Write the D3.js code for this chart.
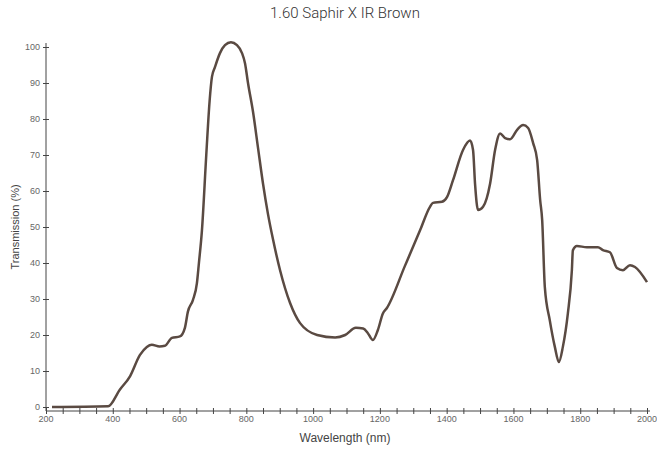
<!DOCTYPE html>
<html>
<head>
<meta charset="utf-8">
<script src="https://cdn.jsdelivr.net/npm/d3@7"></script>
<style>
  body { margin: 0; background: #fff; }
  svg text { font-family: "Liberation Sans", Arial, sans-serif; }
</style>
</head>
<body>
<svg id="chart" width="657" height="449"></svg>
<script>
// wavelength (nm) and transmission (%)
var wavelength = [218, 386, 421, 452, 481, 502, 517, 540, 556, 577, 601, 616, 625, 640, 652, 658, 667, 680, 690, 697, 706, 721, 736, 754, 772, 787, 796, 805, 820, 835, 850, 865, 880, 901, 931, 961, 1012, 1066, 1096, 1128, 1150, 1164, 1179, 1194, 1209, 1221, 1275, 1320, 1350, 1359, 1386, 1401, 1419, 1449, 1470, 1479, 1485, 1494, 1509, 1530, 1545, 1560, 1575, 1590, 1611, 1629, 1644, 1659, 1671, 1680, 1686, 1694, 1709, 1724, 1736, 1748, 1763, 1775, 1778, 1790, 1820, 1853, 1868, 1889, 1910, 1928, 1949, 1964, 2000];
var transmission = [0, 0.2, 4.8, 8.6, 14.4, 16.7, 17.3, 16.8, 17, 19.2, 19.6, 22, 26.5, 29.7, 34.4, 40, 49, 70, 85, 91.7, 94.4, 98.3, 100.5, 101.3, 100.5, 98.3, 95.5, 90, 82, 72, 62, 53.5, 46.5, 38, 28.9, 23.3, 20, 19.3, 20, 22, 21.8, 20.5, 18.6, 21.4, 26, 27.5, 39.2, 49, 55.6, 56.7, 57, 58.3, 63, 71.4, 74, 71.4, 62, 54.7, 55.6, 62, 71.4, 76, 74.7, 74.4, 77, 78.3, 77.5, 73.3, 68.6, 57.5, 52, 33.3, 24, 16.7, 12.5, 16.7, 26, 38, 43.5, 44.7, 44.4, 44.4, 43.6, 43, 38.6, 38, 39.4, 38.9, 34.7];
var xTicks = d3.range(200, 2001, 50);
var xLabels = d3.range(200, 2001, 200);
var yTicks = d3.range(0, 101, 10);

var svg = d3.select("#chart");
var x = d3.scaleLinear().domain([200, 2000]).range([46, 647]);
var y = d3.scaleLinear().domain([0, 100]).range([407, 47]);

var data = wavelength.map(function(d, i) { return [d, transmission[i]]; });

// axes
var xAxis = svg.append("g").attr("transform", "translate(0,411)")
  .call(d3.axisBottom(x).tickValues(xTicks).tickSize(0).tickFormat(""));
xAxis.select(".domain").attr("d", "M46,0H650").attr("stroke", "#444");
xAxis.selectAll(".tick line").attr("y1", -3).attr("y2", 3).attr("stroke", "#444");
svg.append("g").selectAll("text").data(xLabels).enter().append("text")
  .attr("x", function(d) { return x(d); })
  .attr("y", 422)
  .attr("text-anchor", "middle")
  .attr("font-size", 9)
  .attr("fill", "#666")
  .text(function(d) { return d; });

var yAxis = svg.append("g").attr("transform", "translate(46,0)")
  .call(d3.axisLeft(y).tickValues(yTicks).tickSize(0).tickPadding(6));
yAxis.select(".domain").attr("d", "M0,43V411").attr("stroke", "#444");
yAxis.selectAll(".tick line").attr("x1", -3).attr("x2", 3).attr("stroke", "#444");
yAxis.selectAll(".tick text").attr("font-size", 9).attr("fill", "#666")
  .attr("font-family", "Liberation Sans, Arial, sans-serif");

// curve
svg.append("path")
  .datum(data)
  .attr("fill", "none")
  .attr("stroke", "#5a4a42")
  .attr("stroke-width", 2.5)
  .attr("stroke-linejoin", "round")
  .attr("d", d3.line()
    .x(function(d) { return x(d[0]); })
    .y(function(d) { return y(d[1]); })
    .curve(d3.curveMonotoneX));

// titles
svg.append("text")
  .attr("x", 345).attr("y", 18)
  .attr("text-anchor", "middle")
  .attr("font-size", 15)
  .attr("fill", "#333")
  .style("font-family", "Roboto, sans-serif")
  .style("font-weight", 300)
  .text("1.60 Saphir X IR Brown");

svg.append("text")
  .attr("x", 345).attr("y", 442)
  .attr("text-anchor", "middle")
  .attr("font-size", 12)
  .attr("fill", "#444")
  .text("Wavelength (nm)");

svg.append("text")
  .attr("transform", "translate(19,227) rotate(-90)")
  .attr("text-anchor", "middle")
  .attr("font-size", 11)
  .attr("fill", "#444")
  .text("Transmission (%)");
</script>
</body>
</html>
